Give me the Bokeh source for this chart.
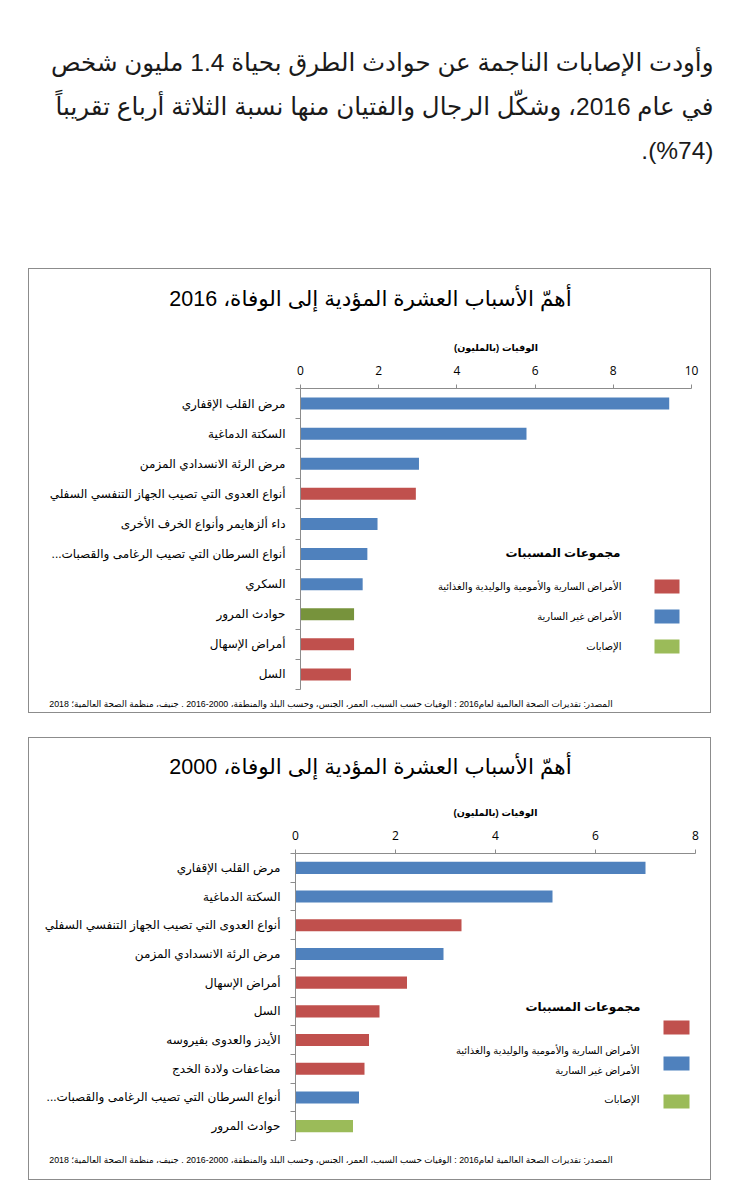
from bokeh.plotting import figure
from bokeh.models import Range1d, FixedTicker, Label, BoxAnnotation
from bokeh.layouts import column, row
from bokeh.embed import file_html
from bokeh.resources import INLINE

# ---------------- data ----------------
intro_lines = [
    "وأودت الإصابات الناجمة عن حوادث الطرق بحياة 1.4 مليون شخص",
    "في عام 2016، وشكّل الرجال والفتيان منها نسبة الثلاثة أرباع تقريباً",
    ".(%74)",
]
title_2016 = "أهمّ الأسباب العشرة المؤدية إلى الوفاة، 2016"
title_2000 = "أهمّ الأسباب العشرة المؤدية إلى الوفاة، 2000"
axis_title = "الوفيات (بالمليون)"
source_text = ("المصدر: تقديرات الصحة العالمية لعام2016 : الوفيات حسب السبب، العمر، الجنس، "
               "وحسب البلد والمنطقة، 2000-2016 . جنيف، منظمة الصحة العالمية؛ 2018")

causes_2016 = [
    "مرض القلب الإقفاري",
    "السكتة الدماغية",
    "مرض الرئة الانسدادي المزمن",
    "أنواع العدوى التي تصيب الجهاز التنفسي السفلي",
    "داء ألزهايمر وأنواع الخرف الأخرى",
    "أنواع السرطان التي تصيب الرغامى والقصبات...\u200f",
    "السكري",
    "حوادث المرور",
    "أمراض الإسهال",
    "السل",
]
deaths_2016 = [9.43, 5.78, 3.03, 2.95, 1.97, 1.71, 1.59, 1.37, 1.37, 1.29]
groups_2016 = ["ncd", "ncd", "ncd", "cd", "ncd", "ncd", "ncd", "inj", "cd", "cd"]
ticks_2016 = [0, 2, 4, 6, 8, 10]

causes_2000 = [
    "مرض القلب الإقفاري",
    "السكتة الدماغية",
    "أنواع العدوى التي تصيب الجهاز التنفسي السفلي",
    "مرض الرئة الانسدادي المزمن",
    "أمراض الإسهال",
    "السل",
    "الأيدز والعدوى بفيروسه",
    "مضاعفات ولادة الخدج",
    "أنواع السرطان التي تصيب الرغامى والقصبات...\u200f",
    "حوادث المرور",
]
deaths_2000 = [7.00, 5.14, 3.32, 2.96, 2.23, 1.68, 1.47, 1.38, 1.27, 1.15]
groups_2000 = ["ncd", "ncd", "cd", "ncd", "cd", "cd", "cd", "cd", "ncd", "inj"]
ticks_2000 = [0, 2, 4, 6, 8]

legend_title = "مجموعات المسببات"
group_keys = ["cd", "ncd", "inj"]
group_names = ["الأمراض السارية والأمومية والوليدية والغذائية", "الأمراض غير السارية", "الإصابات"]
group_colors = {"cd": "#C0504D", "ncd": "#4F81BD", "inj": "#9BBB59"}

AR_FONT = "Liberation Sans, DejaVu Sans, sans-serif"
NUM_FONT = "Open Sans, Liberation Sans, sans-serif"
BOX_LINE = "#8c8c8c"
INNER_X0 = 29      # page x of the inside of the chart boxes
INNER_W = 681


def lab(p, x, y, text, size, align="left", baseline="middle", bold=False,
        color="#000000", font=AR_FONT, units="data"):
    p.add_layout(Label(x=x, y=y, x_units=units, y_units=units, text=text,
                       text_font=font, text_font_size=f"{size}px",
                       text_font_style="bold" if bold else "normal",
                       text_align=align, text_baseline=baseline, text_color=color))


def swatch(p, l, r, t, b, color):
    p.add_layout(BoxAnnotation(left=l, right=r, top=t, bottom=b,
                               left_units="canvas", right_units="canvas",
                               top_units="canvas", bottom_units="canvas",
                               fill_color=color, fill_alpha=1.0, line_alpha=0.0))


def text_fig(width, height, x0, y0):
    """A figure whose frame is its whole canvas; data coordinates = page pixels."""
    p = figure(width=width, height=height, output_backend="svg", toolbar_location=None,
               x_range=Range1d(x0, x0 + width), y_range=Range1d(y0 + height, y0),
               x_axis_location=None, y_axis_location=None, min_border=0, tools="")
    p.grid.visible = False
    p.outline_line_color = None
    p.background_fill_color = "white"
    p.border_fill_color = "white"
    return p


def make_chart(causes, deaths, groups, ticks, xmax, height, borders, inj_color, bar_h):
    bl, br, bt, bb = borders
    n = len(causes)
    ys = [n - i - 0.5 for i in range(n)]
    cmap = dict(group_colors)
    cmap["inj"] = inj_color
    colors = [cmap[g] for g in groups]
    p = figure(width=INNER_W, height=height, output_backend="svg", toolbar_location=None,
               x_range=Range1d(0, xmax), y_range=Range1d(0, n),
               x_axis_location="above", min_border_left=bl, min_border_right=br,
               min_border_top=bt, min_border_bottom=bb, tools="")
    p.hbar(y=ys, left=0, right=deaths, height=bar_h, fill_color=colors, line_color=None)
    p.grid.visible = False
    p.outline_line_color = None
    p.background_fill_color = "white"
    p.border_fill_color = "white"

    xa = p.xaxis[0]
    xa.ticker = FixedTicker(ticks=ticks, minor_ticks=[])
    xa.axis_line_color = BOX_LINE
    xa.major_tick_line_color = BOX_LINE
    xa.major_tick_out = 4
    xa.major_tick_in = 0
    xa.minor_tick_line_color = None
    xa.major_label_text_font = NUM_FONT
    xa.major_label_text_font_size = "12px"
    xa.major_label_text_color = "#000000"
    xa.major_label_standoff = 10
    xa.axis_label = axis_title
    xa.axis_label_text_font = AR_FONT
    xa.axis_label_text_font_size = "9.5px"
    xa.axis_label_text_font_style = "bold"
    xa.axis_label_text_color = "#000000"
    xa.axis_label_standoff = 10

    ya = p.yaxis[0]
    ya.ticker = FixedTicker(ticks=ys, minor_ticks=list(range(n + 1)))
    ya.major_label_overrides = {y: c for y, c in zip(ys, causes)}
    ya.axis_line_color = BOX_LINE
    ya.major_tick_line_color = None
    ya.major_tick_out = 0
    ya.major_tick_in = 0
    ya.minor_tick_line_color = BOX_LINE
    ya.minor_tick_out = 5
    ya.minor_tick_in = 0
    ya.major_label_text_font = AR_FONT
    ya.major_label_text_font_size = "12px"
    ya.major_label_text_color = "#000000"
    ya.major_label_standoff = 10
    return p


BOX_STYLE = {"border": f"1px solid {BOX_LINE}"}

# ---------- paragraph (page y 0..258) ----------
f_para = text_fig(743, 258, 0, 0)
for i, line in enumerate(intro_lines):
    lab(f_para, 713, 62 + 44 * i, line, 24.5, align="right", color="#1a1a1a")

# ---------- chart 2016 (box page y 268..713) ----------
f1_title = text_fig(INNER_W, 61, INNER_X0, 269)
lab(f1_title, 370, 298, title_2016, 21.5, align="center")

f1_chart = make_chart(causes_2016, deaths_2016, groups_2016, ticks_2016, 10, 362,
                      (271, 19, 58, 3), "#77933C", 0.40)
ox, oy = INNER_X0, 330
lab(f1_chart, 620 - ox, 552 - oy, legend_title, 12, align="right", bold=True, units="canvas")
for k, (gk, gn) in enumerate(zip(group_keys, group_names)):
    cy = 586 + 30 * k
    swatch(f1_chart, 654 - ox, 679 - ox, cy - 7 - oy, cy + 7 - oy, group_colors[gk])
    lab(f1_chart, 621 - ox, cy - oy, gn, 10, align="right", units="canvas")

f1_src = text_fig(INNER_W, 20, INNER_X0, 692)
lab(f1_src, 612, 703, source_text, 8.8, align="right")

# each figure wrapped on its own so the column does not align their frames
box1 = column(row(f1_title), row(f1_chart), row(f1_src), spacing=0,
              styles=BOX_STYLE, margin=(10, 0, 0, 28))

# ---------- chart 2000 (box page y 738..1181) ----------
f2_title = text_fig(INNER_W, 61, INNER_X0, 739)
lab(f2_title, 370, 767, title_2000, 21.5, align="center")

f2_chart = make_chart(causes_2000, deaths_2000, groups_2000, ticks_2000, 8, 348,
                      (266, 15, 54, 7), "#9BBB59", 0.42)
ox, oy = INNER_X0, 800
lab(f2_chart, 640 - ox, 1007 - oy, legend_title, 12, align="right", bold=True, units="canvas")
sw_y = [1028, 1064, 1102]
tx_y = [1051, 1071, 1100]
for k, (gk, gn) in enumerate(zip(group_keys, group_names)):
    swatch(f2_chart, 663 - ox, 689 - ox, sw_y[k] - 7 - oy, sw_y[k] + 7 - oy, group_colors[gk])
    lab(f2_chart, 639 - ox, tx_y[k] - oy, gn, 10, align="right", units="canvas")

f2_src = text_fig(INNER_W, 32, INNER_X0, 1148)
lab(f2_src, 612, 1160, source_text, 8.8, align="right")

box2 = column(row(f2_title), row(f2_chart), row(f2_src), spacing=0,
              styles=BOX_STYLE, margin=(24, 0, 0, 28))

layout = column(row(f_para), box1, box2, spacing=0)
open("out.html", "w").write(file_html(layout, INLINE))
